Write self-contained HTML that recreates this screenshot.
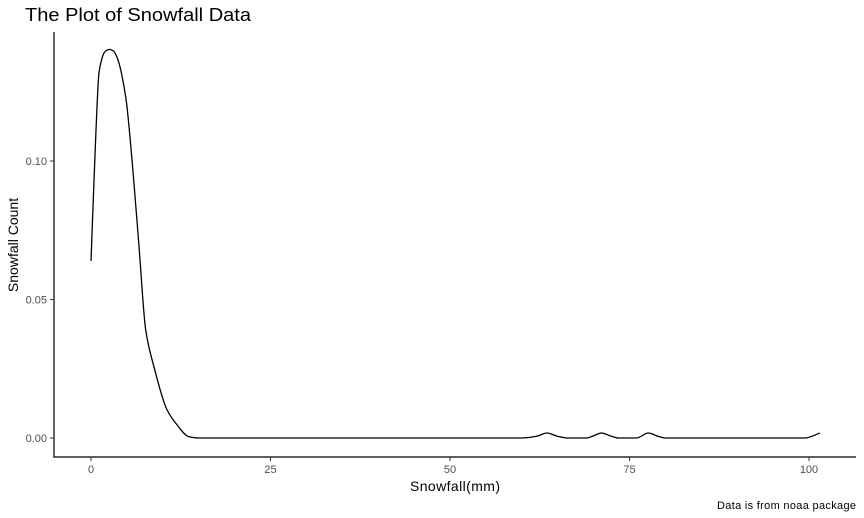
<!DOCTYPE html>
<html><head><meta charset="utf-8"><style>
body{margin:0;background:#fff;font-family:"Liberation Sans",Arial,sans-serif}
svg{display:block}
</style></head><body>
<svg width="864" height="518">
<text x="25" y="21" font-size="18" textLength="226" lengthAdjust="spacingAndGlyphs" fill="#000">The Plot of Snowfall Data</text>
<g id="axes"></g>
<path id="curve" fill="none" stroke="#000" stroke-width="1.3"/>
<text x="455" y="491" font-size="14" text-anchor="middle" textLength="90">Snowfall(mm)</text>
<text transform="translate(18,245) rotate(-90)" font-size="14" text-anchor="middle">Snowfall Count</text>
<text x="856" y="509" font-size="11" text-anchor="end" textLength="139">Data is from noaa package</text>
</svg>
<script>
const xs=[0,0.65,1.11,1.5,1.81,2.2,2.6,3.1,3.66,4.83,5.75,6.69,7.62,8.77,10.6,12.0,13.6,15,60,62,63.5,65,66.5,69,70,71.1,72.3,73.5,76,77.6,79,80,99.5,100.5,101.5];
const ys=[0.0639,0.1083,0.1318,0.1368,0.139,0.1400,0.1403,0.1398,0.1372,0.1232,0.0993,0.069,0.039,0.0257,0.0101,0.0047,0.0005,0,0,0.0006,0.0018,0.0006,0,0,0.0008,0.0018,0.0008,0,0,0.0018,0.0006,0,0,0.0007,0.0018];
const xTicks=[0,25,50,75,100];
const yTicks=[0,0.05,0.10];
const yTickLabels=["0.00","0.05","0.10"];
const sx=v=>91+v*7.18, sy=v=>438-v*2770;
const NS="http://www.w3.org/2000/svg";
const g=document.getElementById('axes');
function mk(t,a){const e=document.createElementNS(NS,t);for(const k in a)e.setAttribute(k,a[k]);g.appendChild(e);return e;}
let e=mk('line',{x1:54,y1:32,x2:54,y2:457.5,stroke:'#000','stroke-width':1.2});


e=mk('line',{x1:53.4,y1:457,x2:856,y2:457,stroke:'#000','stroke-width':1.2});


xTicks.forEach(v=>{
 const t=mk('line',{x1:sx(v),x2:sx(v),y1:457,y2:461,stroke:'#333'});
 
 
 const l=mk('text',{x:sx(v),y:473,'font-size':11,fill:'#4d4d4d','text-anchor':'middle'});
 l.textContent=v;
 
 
});
yTicks.forEach((v,i)=>{
 const t=mk('line',{x1:50,x2:54,y1:sy(v),y2:sy(v),stroke:'#333'});
 
 
 const l=mk('text',{x:47,y:sy(v)+4,'font-size':11,fill:'#4d4d4d','text-anchor':'end'});
 l.textContent=yTickLabels[i];
 
 
});
const P=xs.map((x,i)=>[sx(x),sy(ys[i])]);
const n=P.length, dk=[], m=[];
for(let i=0;i<n-1;i++) dk.push((P[i+1][1]-P[i][1])/(P[i+1][0]-P[i][0]));
m[0]=dk[0]; m[n-1]=dk[n-2];
for(let i=1;i<n-1;i++){
 if(dk[i-1]*dk[i]<=0) m[i]=0;
 else { const h0=P[i][0]-P[i-1][0], h1=P[i+1][0]-P[i][0];
  const w1=2*h1+h0, w2=h1+2*h0; m[i]=(w1+w2)/(w1/dk[i-1]+w2/dk[i]); }
}
let d='M'+P[0][0]+','+P[0][1];
for(let i=0;i<n-1;i++){
 const h=(P[i+1][0]-P[i][0])/3;
 d+=' C'+(P[i][0]+h)+','+(P[i][1]+m[i]*h)+' '+(P[i+1][0]-h)+','+(P[i+1][1]-m[i+1]*h)+' '+P[i+1][0]+','+P[i+1][1];
}
document.getElementById('curve').setAttribute('d',d);
</script>
</body></html>
